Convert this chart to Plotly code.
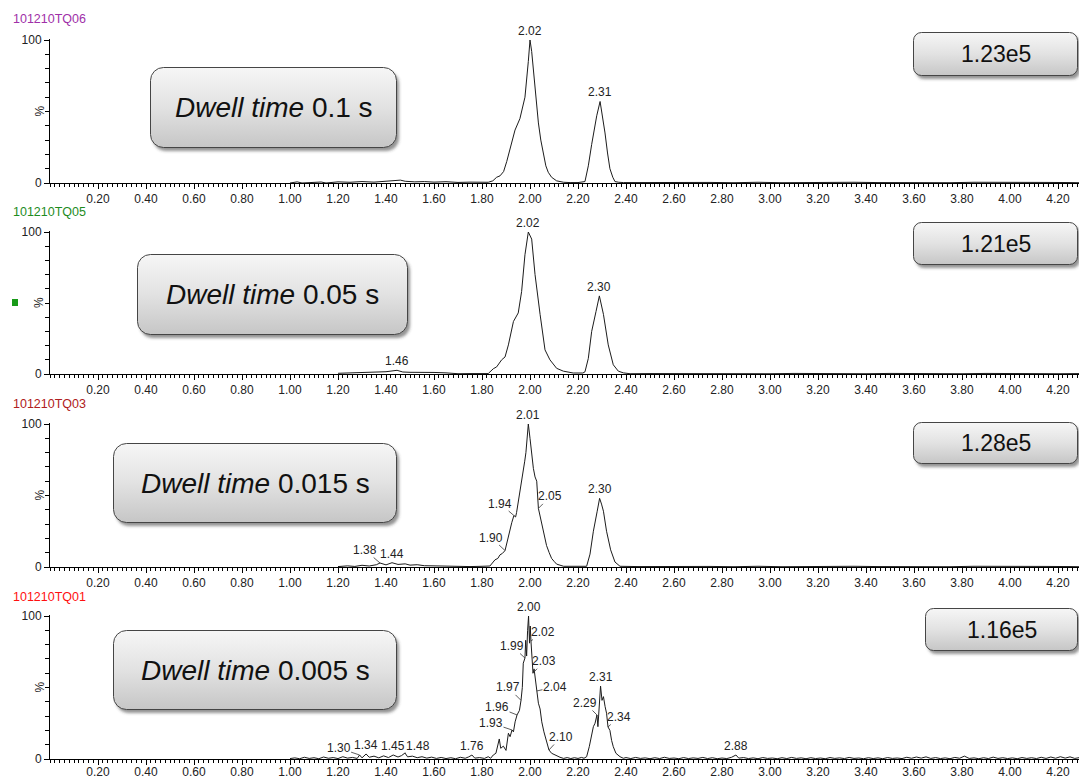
import base64
import plotly.graph_objects as go

# ------------------------------------------------------------------ data
run_ids = ["101210TQ06", "101210TQ05", "101210TQ03", "101210TQ01"]
dwell_values = ["0.1 s", "0.05 s", "0.015 s", "0.005 s"]
max_intensity = ["1.23e5", "1.21e5", "1.28e5", "1.16e5"]

x_tick_vals = [0.2, 0.4, 0.6, 0.8, 1.0, 1.2, 1.4, 1.6, 1.8, 2.0, 2.2,
               2.4, 2.6, 2.8, 3.0, 3.2, 3.4, 3.6, 3.8, 4.0, 4.2]
x_tick_text = ["0.20", "0.40", "0.60", "0.80", "1.00", "1.20", "1.40",
               "1.60", "1.80", "2.00", "2.20", "2.40", "2.60", "2.80",
               "3.00", "3.20", "3.40", "3.60", "3.80", "4.00", "4.20"]
y_tick_vals = [0, 100]
y_tick_text = ["0", "100"]

# --- 101210TQ06 (dwell 0.1 s)
tq06_time = [1.00, 1.03, 1.05, 1.13, 1.15, 1.20, 1.25, 1.30, 1.35, 1.40,
             1.44, 1.46, 1.48, 1.52, 1.56, 1.60, 1.65, 1.70, 1.75, 1.80,
             1.826, 1.845, 1.861, 1.875, 1.89, 1.903, 1.92, 1.9375, 1.958, 1.979,
             1.993, 2.000, 2.007, 2.014, 2.025, 2.035, 2.045, 2.055, 2.066, 2.076,
             2.09, 2.111, 2.14, 2.167, 2.20, 2.229, 2.243, 2.257, 2.268, 2.278,
             2.292, 2.302, 2.3125, 2.323, 2.333, 2.345, 2.354, 2.37, 2.39, 2.45,
             2.55, 2.65, 2.75, 2.85, 2.95, 3.05, 3.15, 3.25, 3.35, 3.45,
             3.55, 3.65, 3.75, 3.85, 3.95, 4.05, 4.15, 4.25, 4.29]
tq06_pct = [0, 0.8, 0, 0.7, 0, 0.8, 0.5, 1.0, 0.6, 1.2,
            1.5, 2.0, 1.2, 0.8, 1.0, 0.6, 0.9, 0.4, 0.6, 0.3,
            0.5, 1.5, 4, 5, 8, 15, 25, 37, 45, 60,
            85, 100, 92, 78, 58, 42, 30, 20, 12, 7.5,
            4, 1.5, 0.5, 0.3, 0.3, 1, 12, 27, 38, 47,
            57, 47, 35, 21, 10, 4, 1, 0.5, 0.3, 0.3,
            0.5, 0.2, 0.4, 0.2, 0.5, 0.2, 0.4, 0.2, 0.5, 0.3,
            0.2, 0.4, 0.2, 0.5, 0.3, 0.2, 0.4, 0.3, 0.2]
tq06_peak_text = ["2.02", "2.31"]
tq06_peak_time = [2.000, 2.292]
tq06_peak_pct = [100, 57]

# --- 101210TQ05 (dwell 0.05 s)
tq05_time = [1.20, 1.25, 1.30, 1.35, 1.40, 1.446, 1.47, 1.50, 1.55, 1.60,
             1.65, 1.70, 1.75, 1.80, 1.826, 1.847, 1.861, 1.882, 1.896, 1.910,
             1.931, 1.951, 1.965, 1.979, 1.993, 2.007, 2.021, 2.042, 2.0625, 2.083,
             2.111, 2.139, 2.18, 2.22, 2.229, 2.243, 2.257, 2.275, 2.289, 2.306,
             2.326, 2.347, 2.368, 2.389, 2.417, 2.50, 2.60, 2.70, 2.80, 2.90,
             3.00, 3.10, 3.20, 3.30, 3.40, 3.50, 3.60, 3.70, 3.80, 3.90,
             4.00, 4.10, 4.20, 4.29]
tq05_pct = [0.5, 0.9, 1.1, 1.3, 1.6, 2.6, 1.4, 1.2, 1.4, 1.1,
            0.8, 0.2, 0.3, 0.2, 0.3, 3.7, 5, 10, 12, 20.5,
            37, 43, 58, 84, 100, 95, 70, 42, 17, 10,
            4, 2, 0.7, 0.7, 1.5, 11, 30, 44, 55, 42,
            20.5, 6.5, 2, 0.8, 0.2, 0.3, 0.2, 0.4, 0.2, 0.3,
            0.2, 0.4, 0.2, 0.3, 0.2, 0.4, 0.2, 0.3, 0.2, 0.4,
            0.2, 0.3, 0.2, 0.3]
tq05_peak_text = ["2.02", "2.30", "1.46"]
tq05_peak_time = [1.993, 2.289, 1.446]
tq05_peak_pct = [100, 55, 2.6]

# --- 101210TQ03 (dwell 0.015 s)
tq03_time = [1.20, 1.24, 1.27, 1.30, 1.33, 1.36, 1.375, 1.40, 1.425, 1.45,
             1.48, 1.50, 1.53, 1.56, 1.60, 1.65, 1.70, 1.75, 1.80, 1.833,
             1.854, 1.866, 1.875, 1.885, 1.896, 1.903, 1.910, 1.917, 1.924, 1.933,
             1.940, 1.944, 1.950, 1.958, 1.965, 1.972, 1.978, 1.983, 1.988, 1.993,
             2.000, 2.007, 2.014, 2.021, 2.028, 2.035, 2.045, 2.056, 2.062, 2.069,
             2.080, 2.090, 2.100, 2.111, 2.140, 2.18, 2.236, 2.250, 2.264, 2.280,
             2.290, 2.298, 2.306, 2.319, 2.336, 2.354, 2.375, 2.45, 2.55, 2.65,
             2.75, 2.85, 2.95, 3.05, 3.15, 3.25, 3.35, 3.45, 3.55, 3.65,
             3.75, 3.85, 3.95, 4.05, 4.15, 4.25, 4.29]
tq03_pct = [0.3, 0.8, 0.4, 1.2, 0.7, 1.6, 2.8, 1.5, 3.0, 1.8,
            2.2, 1.3, 1.6, 0.9, 0.8, 0.5, 0.6, 0.3, 0.5, 0.7,
            5, 6, 8.5, 9.5, 11.5, 17, 22, 26, 31, 36,
            35, 38, 44, 52, 58, 66, 74, 80, 88, 100,
            90, 78, 69, 63, 60, 41, 33, 24, 19, 15,
            10, 6, 4, 2, 0.5, 0.4, 0.5, 9, 25, 39,
            48, 44, 39, 25, 12, 3.5, 0.5, 0.3, 0.5, 0.2,
            0.4, 0.2, 0.5, 0.2, 0.4, 0.2, 0.5, 0.3, 0.2, 0.4,
            0.2, 0.5, 0.3, 0.2, 0.4, 0.3, 0.2]
tq03_peak_text = ["2.01", "2.30", "1.90", "1.94", "2.05", "1.38", "1.44"]
tq03_peak_time = [1.993, 2.290, 1.896, 1.933, 2.035, 1.375, 1.425]
tq03_peak_pct = [100, 48, 11.5, 36, 41, 2.8, 3.0]

# --- 101210TQ01 (dwell 0.005 s)
tq01_time = [1.00, 1.02, 1.04, 1.06, 1.08, 1.10, 1.12, 1.14, 1.16, 1.18,
             1.20, 1.22, 1.24, 1.26, 1.28, 1.29, 1.30, 1.317, 1.33, 1.35,
             1.37, 1.39, 1.41, 1.43, 1.45, 1.465, 1.479, 1.49, 1.51, 1.53,
             1.55, 1.57, 1.59, 1.61, 1.63, 1.65, 1.67, 1.69, 1.71, 1.73,
             1.745, 1.758, 1.77, 1.79, 1.81,
             1.826, 1.836, 1.847, 1.858, 1.864, 1.872, 1.878, 1.889, 1.900, 1.910,
             1.917, 1.925, 1.931, 1.938, 1.946, 1.956, 1.9625, 1.968, 1.972, 1.979,
             1.982, 1.986, 1.990, 1.994, 1.998, 2.001, 2.004, 2.008, 2.0125, 2.017,
             2.022, 2.029, 2.035, 2.042, 2.049, 2.058, 2.070, 2.079, 2.090, 2.104,
             2.125, 2.140, 2.155, 2.170, 2.185, 2.200, 2.215, 2.225,
             2.236, 2.247, 2.257, 2.264, 2.271, 2.279, 2.283, 2.289, 2.294, 2.300,
             2.306, 2.313, 2.319, 2.325, 2.333, 2.340, 2.347, 2.358, 2.375, 2.389,
             2.40, 2.42, 2.44, 2.46, 2.48, 2.50, 2.52, 2.54, 2.56, 2.58,
             2.60, 2.62, 2.64, 2.66, 2.68, 2.70, 2.72, 2.74, 2.76, 2.78,
             2.80, 2.82, 2.84, 2.858, 2.87, 2.89, 2.91, 2.93, 2.95, 2.97,
             2.99, 3.01, 3.03, 3.05, 3.07, 3.09, 3.11, 3.13, 3.15, 3.17,
             3.19, 3.21, 3.23, 3.25, 3.27, 3.29, 3.31, 3.33, 3.35, 3.37,
             3.39, 3.41, 3.43, 3.45, 3.47, 3.49, 3.51, 3.53, 3.55, 3.57,
             3.59, 3.61, 3.63, 3.65, 3.67, 3.69, 3.71, 3.73, 3.75, 3.77,
             3.79, 3.81, 3.83, 3.85, 3.87, 3.89, 3.91, 3.93, 3.95, 3.97,
             3.99, 4.01, 4.03, 4.05, 4.07, 4.09, 4.11, 4.13, 4.15, 4.17,
             4.19, 4.21, 4.23, 4.25, 4.27, 4.29]
tq01_pct = [0.3, 0.8, 0.2, 1.2, 0.4, 0.9, 0.2, 1.4, 0.5, 1.0,
            0.3, 1.6, 0.6, 1.1, 0.4, 2.8, 0.8, 3.5, 1.2, 2.0,
            0.8, 2.2, 1.0, 2.8, 1.4, 2.4, 4.2, 1.5, 2.0, 0.9,
            1.6, 0.6, 1.3, 0.4, 1.1, 0.3, 0.9, 0.2, 1.2, 0.5,
            1.5, 2.8, 0.6, 1.0, 0.4,
            1.6, 0.5, 2.8, 4.0, 8.6, 14, 7.5, 9.0, 6.0, 18,
            15.6, 20.3, 19, 26, 30.8, 34, 41, 50, 67, 70.6,
            83, 72, 90, 100, 81, 93, 82.5, 72, 60, 63,
            57, 47.6, 39, 35, 26, 19, 12, 6.3, 4.0, 2.8,
            1.2, 0.4, 1.0, 0.3, 0.9, 0.4, 1.1, 0.5,
            1.6, 8.6, 15.6, 22.6, 25, 30.8, 22.6, 41, 51, 41,
            43.6, 36.6, 32, 22.4, 20, 13, 8.6, 4.0, 1.6, 0.5,
            1.0, 0.3, 1.1, 0.4, 0.8, 0.2, 0.9, 0.3, 1.2, 0.4,
            0.7, 0.2, 1.0, 0.3, 0.8, 0.4, 1.1, 0.3, 0.9, 0.2,
            0.7, 0.3, 1.2, 2.8, 0.6, 1.0, 0.3, 0.8, 0.2, 1.0,
            0.4, 0.7, 0.2, 0.9, 0.3, 1.1, 0.4, 0.8, 0.2, 0.9,
            0.3, 0.7, 0.2, 1.0, 0.4, 0.8, 0.3, 1.1, 0.4, 0.7,
            0.2, 0.9, 0.3, 0.8, 0.2, 1.0, 0.4, 0.7, 0.3, 1.2,
            0.5, 1.4, 0.6, 1.5, 0.4, 1.0, 0.3, 0.8, 0.2, 1.1,
            0.5, 2.0, 0.4, 0.8, 0.2, 0.9, 0.3, 1.3, 0.4, 0.9,
            0.3, 0.8, 0.2, 1.0, 0.4, 0.9, 0.3, 1.2, 0.4, 1.4,
            0.5, 1.6, 0.6, 1.5, 0.4, 1.0]
tq01_peak_text = ["2.00", "2.02", "1.99", "2.03", "2.04", "1.97", "1.96", "1.93",
                  "2.10", "2.31", "2.29", "2.34", "1.30", "1.34", "1.45", "1.48",
                  "1.76", "2.88"]
tq01_peak_time = [1.994, 2.004, 1.979, 2.0125, 2.029, 1.9625, 1.946, 1.925,
                  2.079, 2.294, 2.279, 2.325, 1.29, 1.317, 1.43, 1.479,
                  1.758, 2.858]
tq01_peak_pct = [100, 82.5, 70.6, 60, 47.6, 41, 30.8, 20.3,
                 6.3, 51, 30.8, 22.4, 2.8, 3.5, 2.8, 4.2,
                 2.8, 2.8]

for a, b in [(tq06_time, tq06_pct), (tq05_time, tq05_pct),
             (tq03_time, tq03_pct), (tq01_time, tq01_pct)]:
    assert len(a) == len(b), (len(a), len(b))

# ------------------------------------------------------------------ styling / layout
W, H = 1079, 778
FONT = "Liberation Sans, Arial, Helvetica, sans-serif"
X0_PX = 50.0
PX_PER_MIN = 240.0
X_MAX = (W - X0_PX) / PX_PER_MIN
ZERO_PX = [183, 374, 567, 759]
TOP_PX = [40, 232, 424, 616]
Y_MAX = 101
ID_COLORS = ["#a030a8", "#1e8c1e", "#b02020", "#ff1010"]
ID_PY = [19, 212, 404, 597]
TICKLABEL_STANDOFF = [0, 0, 0, -3]

# leader-line offsets (text centre relative to point, in px); None = label straight above
tq06_label_offsets = [None, None]
tq05_label_offsets = [None, None, None]
tq03_label_offsets = [None, None, (-14, -13), (-14, -12), (12, -12), (-15, -13), None]
tq01_label_offsets = [None, (12, -9), (-13, -12), (11, -12), (18, -4), (-13, -13),
                      (-20, -8), (-21, -7), (12, -13), None, (-12, -12), (11, -10),
                      (-21, -7), None, None, (13, -7), None, None]

# box geometry in px (x0, y0, w, h)
DWELL_BOX = [(150, 67, 247, 81), (137, 254, 271, 81), (113, 443, 284, 80), (113, 630, 284, 80)]
INT_BOX = [(913, 32, 165, 44), (913, 222, 165, 43), (913, 422, 165, 42), (925, 608, 153, 43)]

panels = [
    (tq06_time, tq06_pct, tq06_peak_text, tq06_peak_time, tq06_peak_pct, tq06_label_offsets),
    (tq05_time, tq05_pct, tq05_peak_text, tq05_peak_time, tq05_peak_pct, tq05_label_offsets),
    (tq03_time, tq03_pct, tq03_peak_text, tq03_peak_time, tq03_peak_pct, tq03_label_offsets),
    (tq01_time, tq01_pct, tq01_peak_text, tq01_peak_time, tq01_peak_pct, tq01_label_offsets),
]


def pap_x(px):
    return px / W


def pap_y(py):
    return 1 - py / H


def box_uri(w, h, r):
    svg = (
        f"<svg xmlns='http://www.w3.org/2000/svg' width='{w + 6}' height='{h + 7}' "
        f"viewBox='0 0 {w + 6} {h + 7}'>"
        "<defs><linearGradient id='g' x1='0' y1='0' x2='0' y2='1'>"
        "<stop offset='0' stop-color='#f6f6f6'/><stop offset='0.5' stop-color='#e2e2e2'/>"
        "<stop offset='1' stop-color='#c6c6c6'/></linearGradient>"
        "<filter id='b' x='-10%' y='-20%' width='130%' height='150%'>"
        "<feGaussianBlur stdDeviation='1.6'/></filter></defs>"
        f"<rect x='3' y='4' width='{w - 1}' height='{h - 1}' rx='{r}' ry='{r}' "
        "fill='#3a3a3a' fill-opacity='0.55' filter='url(#b)'/>"
        f"<rect x='0.5' y='0.5' width='{w - 1}' height='{h - 1}' rx='{r}' ry='{r}' "
        "fill='url(#g)' stroke='#454545' stroke-width='1'/>"
        "</svg>"
    )
    return "data:image/svg+xml;base64," + base64.b64encode(svg.encode()).decode()


fig = go.Figure()
layout = dict(
    template="none",
    width=W, height=H, autosize=False,
    margin=dict(l=0, r=0, t=0, b=0, pad=0, autoexpand=False),
    paper_bgcolor="white", plot_bgcolor="white",
    showlegend=False,
    font=dict(family=FONT, size=12, color="#222222"),
)
annotations = []
images = []
shapes = []

for i, (t, v, ptxt, pt, pv, offs) in enumerate(panels):
    n = "" if i == 0 else str(i + 1)
    zero, top = ZERO_PX[i], TOP_PX[i]
    top_ext = top - (zero - top) * (Y_MAX - 100) / 100.0
    fig.add_trace(go.Scatter(
        x=t, y=v, mode="lines",
        line=dict(color="#1c1c1c", width=1),
        xaxis="x" + n, yaxis="y" + n, hoverinfo="skip", showlegend=False,
    ))
    layout["xaxis" + n] = dict(
        domain=[pap_x(X0_PX), 1], range=[0, X_MAX], anchor="y" + n,
        automargin=False,
        showline=True, linecolor="black", linewidth=1,
        ticks="outside", ticklen=5, tickwidth=1, tickcolor="black",
        ticklabelstandoff=TICKLABEL_STANDOFF[i],
        tickmode="array", tickvals=x_tick_vals, ticktext=x_tick_text,
        tickfont=dict(family=FONT, size=12, color="#222222"),
        minor=dict(ticks="outside", ticklen=3, tickwidth=1, tickcolor="black",
                   tickmode="linear", tick0=0, dtick=0.02, showgrid=False),
        showgrid=False, zeroline=False, fixedrange=True,
    )
    layout["yaxis" + n] = dict(
        domain=[pap_y(zero), pap_y(top_ext)], range=[0, Y_MAX], anchor="x" + n,
        automargin=False,
        showline=True, linecolor="black", linewidth=1,
        ticks="outside", ticklen=5, tickwidth=1, tickcolor="black",
        tickmode="array", tickvals=y_tick_vals, ticktext=y_tick_text,
        tickfont=dict(family=FONT, size=12, color="#222222"),
        minor=dict(ticks="outside", ticklen=4, tickwidth=1, tickcolor="black",
                   tickmode="linear", tick0=0, dtick=10, showgrid=False),
        showgrid=False, zeroline=False, fixedrange=True,
    )
    # "%" label at mid-height
    annotations.append(dict(
        text="%", x=pap_x(39), y=pap_y((zero + top) / 2), xref="paper", yref="paper",
        showarrow=False, textangle=-90, font=dict(family=FONT, size=12, color="#222222"),
        xanchor="center", yanchor="middle",
    ))
    # run identifier
    annotations.append(dict(
        text=run_ids[i], x=pap_x(11), y=pap_y(ID_PY[i]), xref="paper", yref="paper",
        showarrow=False, font=dict(family=FONT, size=12.5, color=ID_COLORS[i]),
        xanchor="left", yanchor="middle",
    ))
    # peak labels
    for txt, xx, yy, off in zip(ptxt, pt, pv, offs):
        a = dict(text=txt, x=xx, y=yy, xref="x" + n, yref="y" + n,
                 font=dict(family=FONT, size=12, color="#222222"))
        if off is None:
            a.update(showarrow=False, xanchor="center", yanchor="bottom", yshift=0)
        else:
            a.update(showarrow=True, arrowhead=0, arrowwidth=0.8, arrowcolor="#333333",
                     ax=off[0], ay=off[1], axref="pixel", ayref="pixel",
                     standoff=0, startstandoff=0, borderpad=0)
        annotations.append(a)
    # dwell-time box
    bx, by, bw, bh = DWELL_BOX[i]
    images.append(dict(source=box_uri(bw, bh, 13), xref="paper", yref="paper",
                       x=pap_x(bx), y=pap_y(by), sizex=(bw + 6) / W, sizey=(bh + 7) / H,
                       xanchor="left", yanchor="top", sizing="stretch", layer="above"))
    annotations.append(dict(
        text="<i>Dwell time</i> " + dwell_values[i],
        x=pap_x(bx + bw / 2), y=pap_y(by + bh / 2), xref="paper", yref="paper",
        showarrow=False, font=dict(family=FONT, size=28, color="#111111"),
        xanchor="center", yanchor="middle",
    ))
    # intensity box
    ix, iy, iw, ih = INT_BOX[i]
    images.append(dict(source=box_uri(iw, ih, 8), xref="paper", yref="paper",
                       x=pap_x(ix), y=pap_y(iy), sizex=(iw + 6) / W, sizey=(ih + 7) / H,
                       xanchor="left", yanchor="top", sizing="stretch", layer="above"))
    annotations.append(dict(
        text=max_intensity[i],
        x=pap_x(ix + iw / 2), y=pap_y(iy + ih / 2), xref="paper", yref="paper",
        showarrow=False, font=dict(family=FONT, size=23, color="#111111"),
        xanchor="center", yanchor="middle",
    ))

# small green marker left of the second trace
shapes.append(dict(type="rect", xref="paper", yref="paper",
                   x0=pap_x(12), x1=pap_x(18), y0=pap_y(306), y1=pap_y(299),
                   fillcolor="#189a18", line=dict(width=0)))

layout["annotations"] = annotations
layout["images"] = images
layout["shapes"] = shapes
fig.update_layout(**layout)
fig.write_html(
    "out.html",
    config={"displayModeBar": False},
    post_script="document.body.style.margin='0px';document.body.style.padding='0px';"
                "document.body.style.overflow='hidden';",
)
